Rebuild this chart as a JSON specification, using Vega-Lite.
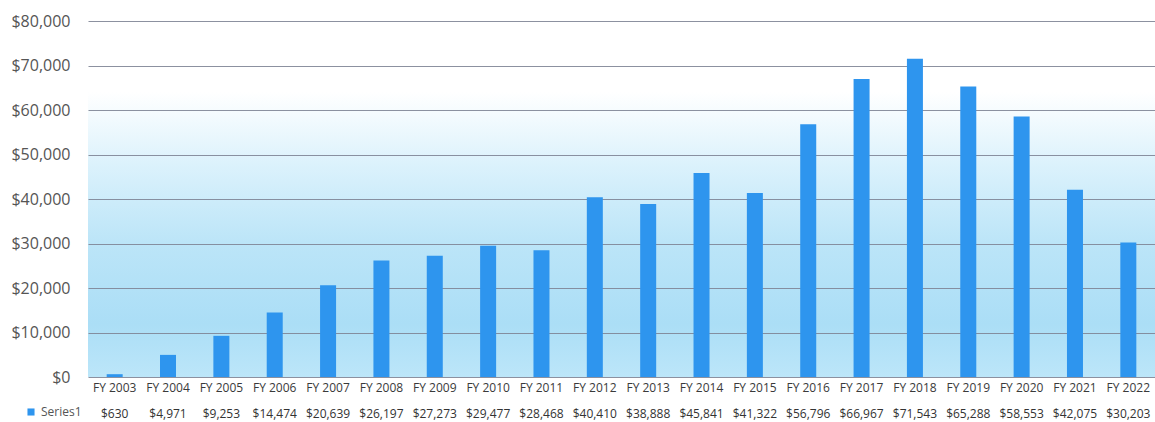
{
  "$schema": "https://vega.github.io/schema/vega-lite/v6.json",
  "width": 1067,
  "height": 356,
  "padding": {"left": 88, "top": 21, "right": 0, "bottom": 45},
  "autosize": {"type": "none"},
  "background": "#ffffff",
  "config": {
    "view": {
      "stroke": null,
      "fill": {
        "gradient": "linear",
        "x1": 0, "y1": 0, "x2": 0, "y2": 1,
        "stops": [
          {"offset": 0, "color": "#ffffff"},
          {"offset": 0.2, "color": "#ffffff"},
          {"offset": 0.4, "color": "#dcf2fc"},
          {"offset": 0.62, "color": "#bce5f8"},
          {"offset": 0.85, "color": "#abdef6"},
          {"offset": 1, "color": "#bce6f9"}
        ]
      }
    },
    "font": "Open Sans"
  },
  "data": {
    "values": [
      {"fy": "FY 2003", "amount": 630, "series": "Series1"},
      {"fy": "FY 2004", "amount": 4971, "series": "Series1"},
      {"fy": "FY 2005", "amount": 9253, "series": "Series1"},
      {"fy": "FY 2006", "amount": 14474, "series": "Series1"},
      {"fy": "FY 2007", "amount": 20639, "series": "Series1"},
      {"fy": "FY 2008", "amount": 26197, "series": "Series1"},
      {"fy": "FY 2009", "amount": 27273, "series": "Series1"},
      {"fy": "FY 2010", "amount": 29477, "series": "Series1"},
      {"fy": "FY 2011", "amount": 28468, "series": "Series1"},
      {"fy": "FY 2012", "amount": 40410, "series": "Series1"},
      {"fy": "FY 2013", "amount": 38888, "series": "Series1"},
      {"fy": "FY 2014", "amount": 45841, "series": "Series1"},
      {"fy": "FY 2015", "amount": 41322, "series": "Series1"},
      {"fy": "FY 2016", "amount": 56796, "series": "Series1"},
      {"fy": "FY 2017", "amount": 66967, "series": "Series1"},
      {"fy": "FY 2018", "amount": 71543, "series": "Series1"},
      {"fy": "FY 2019", "amount": 65288, "series": "Series1"},
      {"fy": "FY 2020", "amount": 58553, "series": "Series1"},
      {"fy": "FY 2021", "amount": 42075, "series": "Series1"},
      {"fy": "FY 2022", "amount": 30203, "series": "Series1"}
    ]
  },
  "encoding": {
    "x": {
      "field": "fy",
      "type": "nominal",
      "sort": null,
      "scale": {"paddingInner": 0.7, "paddingOuter": 0.35},
      "axis": {
        "title": null,
        "labelAngle": 0,
        "ticks": false,
        "domain": false,
        "labelFontSize": 12,
        "labelColor": "#3a3a3a",
        "labelPadding": 5
      }
    }
  },
  "layer": [
    {
      "mark": {"type": "bar", "clip": false},
      "encoding": {
        "y": {
          "field": "amount",
          "type": "quantitative",
          "scale": {"domain": [0, 80000], "nice": false},
          "axis": {
            "title": null,
            "values": [0, 10000, 20000, 30000, 40000, 50000, 60000, 70000, 80000],
            "format": "$,.0f",
            "ticks": false,
            "domain": false,
            "labelFontSize": 16,
            "labelColor": "#555555",
            "labelPadding": 18,
            "gridColor": "#7f8596",
            "gridWidth": 1,
            "gridOpacity": 0.9
          }
        },
        "color": {
          "field": "series",
          "type": "nominal",
          "scale": {"range": ["#2e95ee"]},
          "legend": {
            "title": null,
            "orient": "none",
            "legendX": -63,
            "legendY": 385,
            "padding": 0,
            "symbolType": "square",
            "symbolSize": 50,
            "symbolStrokeWidth": 0,
            "labelFontSize": 12,
            "labelColor": "#555555",
            "labelOffset": 4
          }
        }
      }
    },
    {
      "mark": {"type": "text", "fontSize": 12, "color": "#333333", "baseline": "middle", "clip": false},
      "encoding": {
        "y": {"datum": -8300},
        "text": {"field": "amount", "type": "quantitative", "format": "$,.0f"}
      }
    }
  ]
}
